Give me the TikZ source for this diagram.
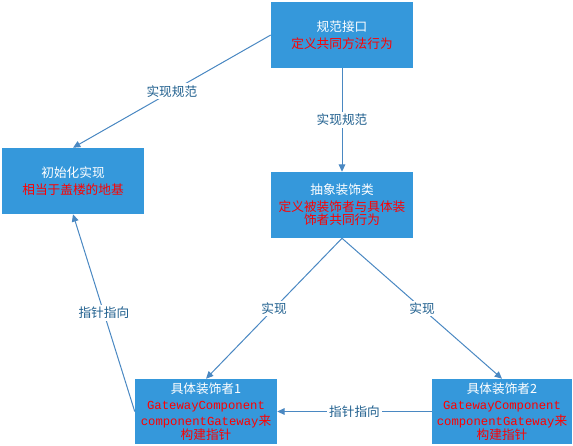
\documentclass[tikz,border=0pt]{standalone}
\usepackage{fontspec}
\setmainfont{Noto Sans CJK SC}
\newfontfamily\monof{Liberation Mono}
\usetikzlibrary{arrows.meta}
\definecolor{boxblue}{HTML}{3598DB}
\definecolor{linkblue}{HTML}{4A88C2}
\definecolor{lblblue}{HTML}{1F5F8E}
\definecolor{redtxt}{HTML}{FF0000}
\tikzset{
  box/.style={draw=none, fill=boxblue, minimum width=142*0.75pt, minimum height=66*0.75pt,
    inner sep=0pt, align=center, text=white, font=\fontsize{9.5}{12.5}\selectfont},
  dbox/.style={box, minimum height=65*0.75pt, font=\fontsize{9.5}{11.5}\selectfont},
  link/.style={draw=linkblue, line width=0.75pt, -{Triangle[length=5.5pt,width=5pt]}},
  lbl/.style={fill=white, text=lblblue, inner sep=1.5pt, font=\fontsize{9.5}{12}\selectfont},
}
\newcommand{\rd}[1]{\textcolor{redtxt}{#1}}
\newcommand{\mn}[1]{{\monof\fontsize{9.2}{11.5}\selectfont #1}}
\begin{document}
\begin{tikzpicture}[x=0.75pt,y=-0.75pt]
\useasboundingbox (0,0) rectangle (573,445);
\node[box] (b1) at (342,35) {规范接口\\\rd{定义共同方法行为}};
\node[box] (b2) at (73,181) {初始化实现\\\rd{相当于盖楼的地基}};
\node[box] (b3) at (342,205) {抽象装饰类\\\rd{定义被装饰者与具体装}\\[-2.5pt]\rd{饰者共同行为}};
\node[dbox] (b4) at (206,411.5) {具体装饰者1\\[0.8pt]\rd{\mn{GatewayComponent}}\\\rd{\mn{componentGateway}来}\\[-0.8pt]\rd{构建指针}};
\node[dbox, minimum width=140*0.75pt] (b5) at (502,411.5) {具体装饰者2\\[0.8pt]\rd{\mn{GatewayComponent}}\\\rd{\mn{componentGateway}来}\\[-0.8pt]\rd{构建指针}};
\draw[link] (b1.west) -- node[midway,lbl] (l1) {实现规范} (b2.north);
\draw[link] (b1.south) -- node[midway,lbl] (l2) {实现规范} (b3.north);
\draw[link] (b3.south) -- node[midway,lbl] (l3) {实现} (b4.north);
\draw[link] (b3.south) -- node[midway,lbl] (l4) {实现} (b5.north);
\draw[link] (b4.west) -- node[midway,lbl] (l5) {指针指向} (b2.south);
\draw[link] (b5.west) -- node[midway,lbl] (l6) {指针指向} (b4.east);
\end{tikzpicture}
\end{document}
